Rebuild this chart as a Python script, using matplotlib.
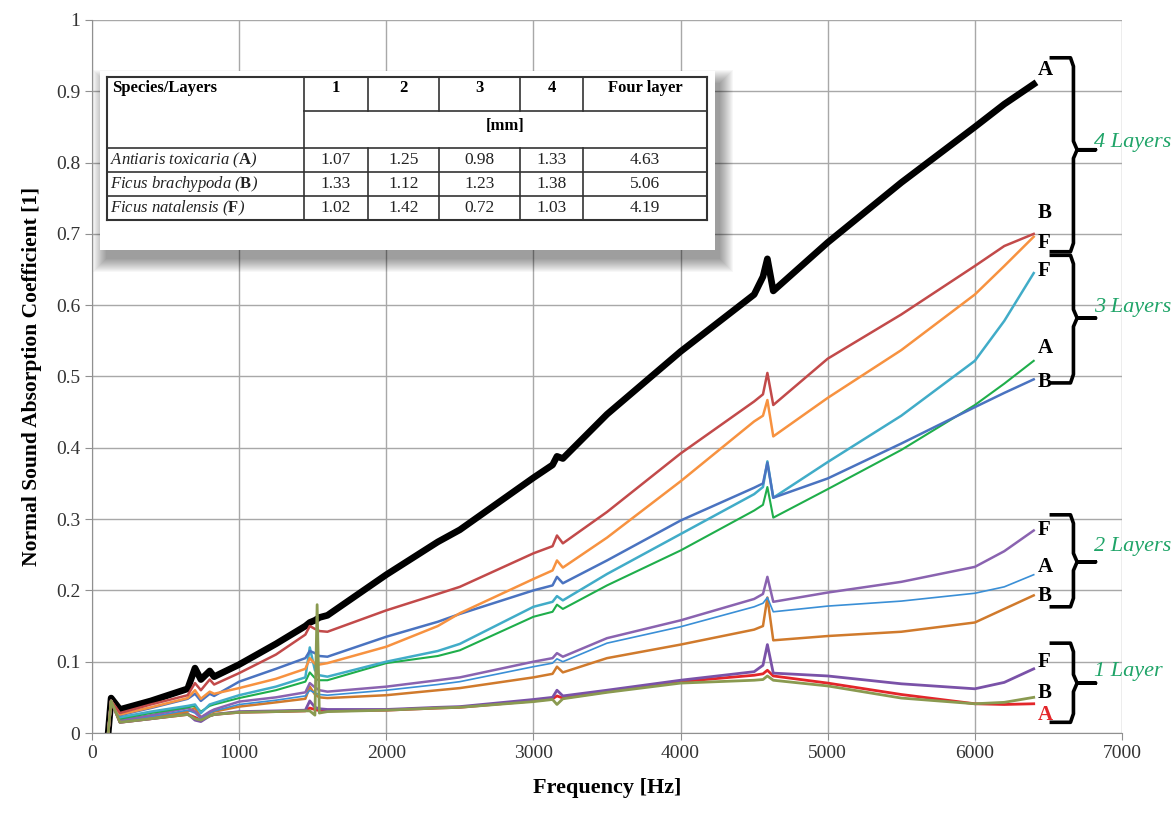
import numpy as np
import matplotlib
matplotlib.use('Agg')
import matplotlib.pyplot as plt
from matplotlib.patches import Rectangle
from matplotlib.lines import Line2D

plt.rcParams['font.family'] = ['Liberation Serif', 'DejaVu Serif']
plt.rcParams['mathtext.fontset'] = 'custom'
plt.rcParams['mathtext.rm'] = 'Liberation Serif:italic'
plt.rcParams['mathtext.it'] = 'Liberation Serif:italic'
plt.rcParams['mathtext.bf'] = 'Liberation Serif:bold'

# frequencies [Hz] at which the curves were read
freq = [110, 130, 190, 400, 650, 700, 740, 800, 830, 1000, 1250, 1450, 1480, 1515, 1530, 1545, 1600,
        2000, 2350, 2500, 3000, 3130, 3160, 3200, 3500, 4000, 4500, 4560, 4590, 4630,
        5000, 5500, 6000, 6200, 6400]

# four layers
l4_A = [0, 0.049, 0.033, 0.045, 0.062, 0.091, 0.075, 0.087, 0.079, 0.096, 0.125, 0.150, 0.155, 0.158, 0.160, 0.162, 0.165,
        0.222, 0.268, 0.285, 0.358, 0.376, 0.388, 0.385, 0.447, 0.535, 0.615, 0.640, 0.665, 0.620,
        0.688, 0.772, 0.850, 0.882, 0.910]
l4_B = [0, 0.045, 0.028, 0.040, 0.053, 0.070, 0.060, 0.075, 0.068, 0.084, 0.110, 0.138, 0.150, 0.146, 0.145, 0.143, 0.142,
        0.172, 0.195, 0.205, 0.252, 0.262, 0.277, 0.266, 0.310, 0.392, 0.465, 0.475, 0.505, 0.460,
        0.525, 0.587, 0.655, 0.683, 0.700]
l4_F = [0, 0.045, 0.026, 0.036, 0.049, 0.060, 0.048, 0.058, 0.055, 0.063, 0.076, 0.090, 0.105, 0.097, 0.095, 0.096, 0.098,
        0.121, 0.150, 0.168, 0.216, 0.228, 0.242, 0.232, 0.274, 0.353, 0.437, 0.445, 0.467, 0.416,
        0.470, 0.537, 0.615, 0.655, 0.696]
# three layers
l3_F = [0, 0.045, 0.022, 0.030, 0.038, 0.040, 0.028, 0.040, 0.042, 0.053, 0.065, 0.078, 0.120, 0.088, 0.085, 0.081, 0.079,
        0.100, 0.115, 0.125, 0.177, 0.184, 0.192, 0.186, 0.223, 0.279, 0.335, 0.345, 0.381, 0.330,
        0.380, 0.445, 0.522, 0.578, 0.645]
l3_A = [0, 0.045, 0.020, 0.028, 0.036, 0.038, 0.030, 0.038, 0.040, 0.049, 0.060, 0.072, 0.085, 0.077, 0.075, 0.074, 0.074,
        0.098, 0.108, 0.116, 0.163, 0.170, 0.180, 0.174, 0.207, 0.256, 0.312, 0.320, 0.345, 0.302,
        0.342, 0.397, 0.460, 0.490, 0.522]
l3_B = [0, 0.045, 0.025, 0.035, 0.048, 0.055, 0.045, 0.055, 0.052, 0.072, 0.090, 0.105, 0.115, 0.112, 0.110, 0.108, 0.107,
        0.135, 0.156, 0.167, 0.200, 0.207, 0.219, 0.210, 0.242, 0.298, 0.344, 0.350, 0.379, 0.330,
        0.357, 0.406, 0.457, 0.477, 0.496]
# two layers
l2_F = [0, 0.045, 0.018, 0.025, 0.035, 0.030, 0.022, 0.030, 0.033, 0.044, 0.050, 0.057, 0.070, 0.064, 0.062, 0.060, 0.058,
        0.065, 0.074, 0.078, 0.100, 0.105, 0.112, 0.107, 0.133, 0.158, 0.188, 0.195, 0.219, 0.184,
        0.197, 0.212, 0.233, 0.255, 0.284]
l2_A = [0, 0.045, 0.017, 0.023, 0.032, 0.028, 0.020, 0.028, 0.031, 0.040, 0.046, 0.052, 0.060, 0.056, 0.055, 0.054, 0.053,
        0.060, 0.068, 0.072, 0.093, 0.098, 0.104, 0.100, 0.126, 0.149, 0.177, 0.182, 0.190, 0.170,
        0.178, 0.185, 0.196, 0.205, 0.222]
l2_B = [0, 0.045, 0.016, 0.022, 0.030, 0.035, 0.022, 0.028, 0.030, 0.037, 0.043, 0.048, 0.065, 0.054, 0.052, 0.050, 0.049,
        0.053, 0.060, 0.063, 0.078, 0.083, 0.093, 0.085, 0.105, 0.124, 0.145, 0.150, 0.190, 0.130,
        0.136, 0.142, 0.155, 0.174, 0.193]
# one layer
l1_F = [0, 0.045, 0.015, 0.020, 0.027, 0.018, 0.016, 0.024, 0.026, 0.030, 0.031, 0.032, 0.045, 0.036, 0.035, 0.034, 0.033,
        0.033, 0.036, 0.037, 0.047, 0.050, 0.060, 0.052, 0.060, 0.074, 0.086, 0.095, 0.124, 0.084,
        0.080, 0.069, 0.062, 0.071, 0.090]
l1_A = [0, 0.045, 0.015, 0.020, 0.026, 0.022, 0.018, 0.024, 0.026, 0.029, 0.030, 0.031, 0.035, 0.033, 0.032, 0.032, 0.031,
        0.032, 0.035, 0.036, 0.045, 0.048, 0.052, 0.049, 0.058, 0.072, 0.081, 0.083, 0.088, 0.080,
        0.070, 0.054, 0.041, 0.040, 0.041]
l1_B = [0, 0.045, 0.015, 0.020, 0.026, 0.020, 0.018, 0.024, 0.026, 0.029, 0.030, 0.031, 0.031, 0.025, 0.180, 0.028, 0.030,
        0.032, 0.035, 0.036, 0.044, 0.047, 0.040, 0.048, 0.057, 0.070, 0.074, 0.075, 0.080, 0.074,
        0.066, 0.049, 0.041, 0.043, 0.050]

series = [
    (l4_A, 'black', 4.8),
    (l1_A, '#e3262a', 2.0),
    (l1_F, '#7a52a8', 2.0),
    (l2_B, '#d07a2c', 1.8),
    (l2_A, '#3a8fd6', 1.2),
    (l2_F, '#8a63b0', 1.8),
    (l3_A, '#1fae4b', 1.5),
    (l3_F, '#41acc8', 1.8),
    (l3_B, '#4a73c0', 1.8),
    (l4_F, '#f79240', 1.8),
    (l4_B, '#c24a4a', 1.8),
    (l1_B, '#8a9a50', 2.0),
]

# end labels and group brackets
end_letters = ['A', 'B', 'F', 'F', 'A', 'B', 'F', 'A', 'B', 'F', 'B', 'A']
end_label_y = [0.930, 0.729, 0.687, 0.648, 0.540, 0.492, 0.285, 0.233, 0.192, 0.100, 0.056, 0.025]
end_colors = ['black'] * 11 + ['#e3262a']
groups = ['4 Layers', '3 Layers', '2 Layers', '1 Layer']
group_top = [0.947, 0.670, 0.306, 0.126]
group_bot = [0.675, 0.491, 0.177, 0.015]
group_mid = [0.818, 0.582, 0.240, 0.070]
group_text_y = [0.828, 0.597, 0.261, 0.086]

# thickness table
tbl_header = ['Species/Layers', '1', '2', '3', '4', 'Four layer']
tbl_species = [r'$\mathit{Antiaris\ toxicaria\ (}\mathbf{A}\mathit{)}$',
               r'$\mathit{Ficus\ brachypoda\ (}\mathbf{B}\mathit{)}$',
               r'$\mathit{Ficus\ natalensis\ (}\mathbf{F}\mathit{)}$']
tbl_values = [['1.07', '1.25', '0.98', '1.33', '4.63'],
              ['1.33', '1.12', '1.23', '1.38', '5.06'],
              ['1.02', '1.42', '0.72', '1.03', '4.19']]

W, H = 1173, 821
fig = plt.figure(figsize=(W / 100, H / 100), dpi=100)
ax = fig.add_axes([92 / W, 1 - 733 / H, 1030 / W, 713 / H])

for vals, c, lw in series:
    ax.plot(freq, vals, color=c, lw=lw, solid_joinstyle='round')

ax.set_xlim(0, 7000)
ax.set_ylim(0, 1)
ax.set_xticks(np.arange(0, 7001, 1000))
ax.set_yticks(np.arange(0, 1.01, 0.1))
ax.set_yticklabels([f'{v:g}' for v in np.round(np.arange(0, 1.01, 0.1), 1)])
ax.grid(True, color='#a8a8a8', lw=1.0)
ax.set_axisbelow(True)
for s in ['top', 'right']:
    ax.spines[s].set_visible(False)
for s in ['left', 'bottom']:
    ax.spines[s].set_color('#909090')
ax.tick_params(labelsize=14, colors='#909090', labelcolor='#333333', length=5)
ax.set_xlabel('Frequency [Hz]', fontsize=16, fontweight='bold', labelpad=12)
ax.set_ylabel('Normal Sound Absorption Coefficient [1]', fontsize=15.5, fontweight='bold', labelpad=10)

for letter, y, c in zip(end_letters, end_label_y, end_colors):
    ax.text(6425, y, letter, fontsize=15, fontweight='bold', color=c, va='center', ha='left')

xl, xv, xt = 6520, 6670, 6820
for name, top, bot, mid, ty in zip(groups, group_top, group_bot, group_mid, group_text_y):
    d = 0.012
    bx = [xl, xv - 20, xv, xv, xv + 25, xt, xv + 25, xv, xv, xv - 20, xl]
    by = [top, top, top - d, mid + d, mid, mid, mid, mid - d, bot + d, bot, bot]
    ax.plot(bx, by, color='black', lw=2.6, clip_on=False, solid_joinstyle='round')
    ax.text(xt - 10, ty, name, fontsize=16, fontstyle='italic', color='#1fa468',
            va='center', ha='left', clip_on=False)

# table inset (pixel positions in the figure)
def fx(px):
    return px / W

def fy(py):
    return 1 - py / H

for k in range(14):
    fig.add_artist(Rectangle((fx(102 + 4 - k), fy(250 + 9 + k)), (614 + 2 * k) / W, (176 + 2 * k) / H,
                             transform=fig.transFigure, facecolor='black', alpha=0.03,
                             edgecolor='none', zorder=1))
fig.add_artist(Rectangle((fx(100), fy(250)), 615 / W, 179 / H, transform=fig.transFigure,
                         facecolor='white', edgecolor='none', zorder=2))

cols = [107, 304, 368, 439, 520, 583, 707]
rows = [77, 111, 148, 172, 196, 220]

def hline(y, x0, x1, lw=1.2):
    fig.add_artist(Line2D([fx(x0), fx(x1)], [fy(y), fy(y)], transform=fig.transFigure,
                          color='#333333', lw=lw, zorder=3))

def vline(x, y0, y1, lw=1.2):
    fig.add_artist(Line2D([fx(x), fx(x)], [fy(y0), fy(y1)], transform=fig.transFigure,
                          color='#333333', lw=lw, zorder=3))

hline(rows[0], cols[0], cols[-1], 1.5)
hline(rows[1], cols[1], cols[-1])
for r in rows[2:-1]:
    hline(r, cols[0], cols[-1])
hline(rows[-1], cols[0], cols[-1], 1.5)
vline(cols[0], rows[0], rows[-1], 1.5)
vline(cols[-1], rows[0], rows[-1], 1.5)
vline(cols[1], rows[0], rows[-1])
for c in cols[2:-1]:
    vline(c, rows[0], rows[1])
    vline(c, rows[2], rows[-1])

fig.text(fx(112), fy(88), tbl_header[0], fontsize=12, fontweight='bold', va='center', ha='left', zorder=4)
for i, h in enumerate(tbl_header[1:]):
    fig.text(fx((cols[i + 1] + cols[i + 2]) / 2), fy(88), h, fontsize=12, fontweight='bold',
             va='center', ha='center', zorder=4)
fig.text(fx((cols[1] + cols[-1]) / 2), fy(126), '[mm]', fontsize=12, fontweight='bold',
         va='center', ha='center', zorder=4)
for j, (sp, vals) in enumerate(zip(tbl_species, tbl_values)):
    yc = fy((rows[j + 2] + rows[j + 3]) / 2)
    fig.text(fx(110), yc, sp, fontsize=12, va='center', ha='left', zorder=4, color='#222222')
    for i, v in enumerate(vals):
        fig.text(fx((cols[i + 1] + cols[i + 2]) / 2), yc, v, fontsize=12.5, va='center', ha='center',
                 zorder=4, color='#222222')

fig.savefig('out.png', dpi=100)
